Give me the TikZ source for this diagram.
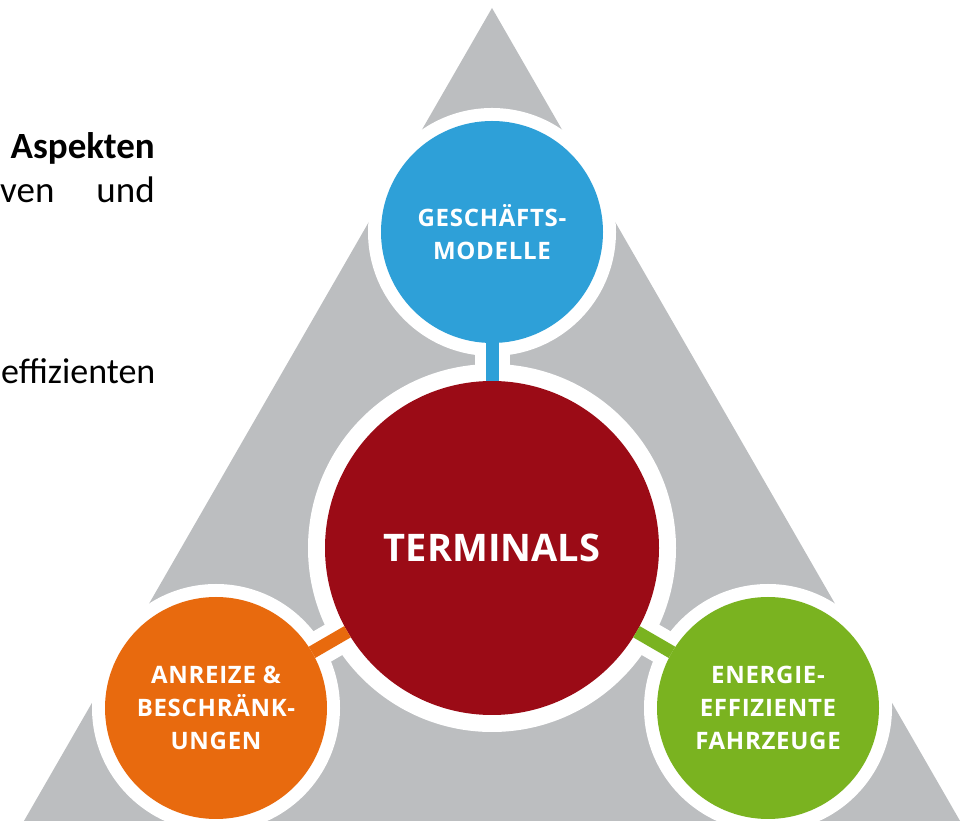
\documentclass[tikz,border=0pt]{standalone}
\usepackage{fontspec}
\setmainfont{Carlito}
\newfontfamily\circfont[LetterSpace=3]{Open Sans}
\newfontfamily\hubfont{Open Sans}
\usetikzlibrary{positioning, backgrounds}
\definecolor{trigray}{HTML}{BCBEC0}
\definecolor{geblue}{HTML}{2EA0D8}
\definecolor{termred}{HTML}{9B0B16}
\definecolor{anorange}{HTML}{E86A0E}
\definecolor{fzgreen}{HTML}{7AB320}
\tikzset{
  pyramid/.style={
	x=1pt, y=1pt, % one unit is one pixel of the page
	hub/.style={circle, fill=termred, minimum size=334pt, inner sep=0pt, outer sep=0pt, text=white, font=\hubfont\bfseries\fontsize{38}{40}\selectfont},
	sat/.style={circle, minimum size=222pt, inner sep=0pt, outer sep=0pt, text=white, align=center, font=\circfont\bfseries\fontsize{24}{33}\selectfont},
	stem/.style={line width=13pt}, % coloured link between the circles
	gap/.style={white, line width=35pt}, % white band round the link
	body/.style={inner sep=0pt, anchor=base east, font=\fontsize{37}{44}\selectfont},
  }
}
\begin{document}
\begin{tikzpicture}[pyramid]
\useasboundingbox (0,0) rectangle (961,821);
% text of the page, cut off at the left
\node[body, font=\fontsize{37}{44}\selectfont\bfseries] (aspekten) at (155,662) {Aspekten};
\node[body, anchor=base west] (ven) at (0,618) {ven};
\node[body] (und) at (155,618) {und};
\node[body, anchor=base west, font=\fontsize{36}{44}\selectfont] (effizienten) at (1,437) {effizienten};
% circles
\node[hub] (terminals) at (492,273) {TERMINALS};
\node[sat, fill=geblue, above of=terminals, node distance=316pt] (geschaeft) {GESCHÄFTS-\\MODELLE};
\node[sat, fill=anorange, below of=terminals, node distance=160pt, xshift=-276pt] (anreize) {ANREIZE \&\\BESCHRÄNK-\\UNGEN};
\node[sat, fill=fzgreen, below of=terminals, node distance=160pt, xshift=276pt] (fahrzeuge) {ENERGIE-\\EFFIZIENTE\\FAHRZEUGE};
\begin{scope}[on background layer]
\coordinate (apex) at (492,813);
\fill[trigray] (apex) -- (971,-19) -- (13,-19) -- cycle;
\fill[white] (terminals.center) circle (184pt);
\foreach \s in {geschaeft, anreize, fahrzeuge}
  \fill[white] (\s.center) circle (124pt);
\draw[gap] (geschaeft) -- (terminals);
\draw[gap] (anreize) -- (terminals);
\draw[gap] (fahrzeuge) -- (terminals);
\end{scope}
\draw[stem, geblue] (geschaeft) -- (terminals);
\draw[stem, anorange] (anreize) -- (terminals);
\draw[stem, fzgreen] (fahrzeuge) -- (terminals);
\end{tikzpicture}
\end{document}
